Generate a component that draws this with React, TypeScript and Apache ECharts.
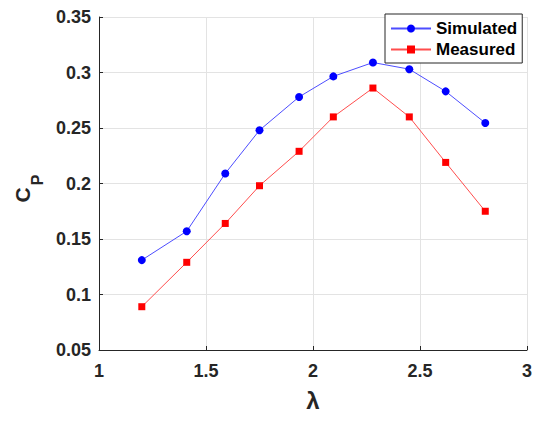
import React, { useEffect, useRef } from "react";
import * as echarts from "echarts";

const lambdaValues = [1.2, 1.41, 1.59, 1.75, 1.935, 2.095, 2.28, 2.45, 2.62, 2.805];
const simulated = [0.131, 0.157, 0.209, 0.248, 0.278, 0.2965, 0.309, 0.303, 0.283, 0.2545];
const measured = [0.089, 0.129, 0.164, 0.198, 0.229, 0.26, 0.286, 0.26, 0.219, 0.175];
const seriesNames = ["Simulated", "Measured"];

const FONT = "'Liberation Sans', Arial, sans-serif";
const DARK = "#262626";

export default function App() {
  const ref = useRef<HTMLDivElement>(null);
  useEffect(() => {
    if (!ref.current) return;
    const chart = echarts.init(ref.current, null, { renderer: "svg" });
    const pairs = (ys: number[]) => lambdaValues.map((x, i) => [x, ys[i]]);
    chart.setOption({
      animation: false,
      backgroundColor: "#ffffff",
      grid: { left: 99, right: 23, top: 17, bottom: 72, containLabel: false },
      xAxis: {
        type: "value",
        min: 1,
        max: 3,
        interval: 0.5,
        name: "λ",
        nameLocation: "middle",
        nameGap: 38,
        nameTextStyle: { fontFamily: FONT, fontWeight: "bold", fontSize: 24, color: DARK },
        axisLine: { show: true, onZero: false, lineStyle: { color: DARK, width: 1 } },
        axisTick: { show: true, inside: true, length: 4, lineStyle: { color: DARK } },
        axisLabel: { fontFamily: FONT, fontWeight: "bold", fontSize: 18, color: DARK, margin: 12 },
        splitLine: { show: true, lineStyle: { color: "#e3e3e3", width: 1 } },
      },
      yAxis: {
        type: "value",
        min: 0.05,
        max: 0.35,
        interval: 0.05,
        axisLine: { show: true, onZero: false, lineStyle: { color: DARK, width: 1 } },
        axisTick: { show: true, inside: true, length: 4, lineStyle: { color: DARK } },
        axisLabel: {
          fontFamily: FONT,
          fontWeight: "bold",
          fontSize: 18,
          color: DARK,
          margin: 8,
          formatter: (v: number) => String(Math.round(v * 100) / 100),
        },
        splitLine: { show: true, lineStyle: { color: "#e3e3e3", width: 1 } },
      },
      legend: {
        orient: "vertical",
        left: 385,
        top: 14,
        padding: [6, 5, 5, 5],
        itemGap: 4,
        itemWidth: 40,
        itemHeight: 10,
        borderColor: DARK,
        borderWidth: 1,
        backgroundColor: "#ffffff",
        textStyle: { fontFamily: FONT, fontWeight: "bold", fontSize: 17, color: "#000000" },
        data: seriesNames,
      },
      graphic: [
        {
          type: "text",
          x: 22,
          y: 195,
          rotation: Math.PI / 2,
          style: { text: "C", fontFamily: FONT, fontWeight: "bold", fontSize: 21, fill: DARK, align: "center", verticalAlign: "middle" },
        },
        {
          type: "text",
          x: 37,
          y: 180,
          rotation: Math.PI / 2,
          style: { text: "P", fontFamily: FONT, fontWeight: "bold", fontSize: 16, fill: DARK, align: "center", verticalAlign: "middle" },
        },
      ],
      series: [
        {
          name: seriesNames[0],
          type: "line",
          data: pairs(simulated),
          symbol: "circle",
          symbolSize: 8,
          itemStyle: { color: "#0000ff" },
          lineStyle: { color: "#4d4dff", width: 1 },
        },
        {
          name: seriesNames[1],
          type: "line",
          data: pairs(measured),
          symbol: "rect",
          symbolSize: 7,
          itemStyle: { color: "#ff0000" },
          lineStyle: { color: "#ff4d4d", width: 1 },
        },
      ],
    });
    return () => chart.dispose();
  }, []);
  return <div ref={ref} style={{ position: "fixed", left: 0, top: 0, width: 550, height: 422 }} />;
}
